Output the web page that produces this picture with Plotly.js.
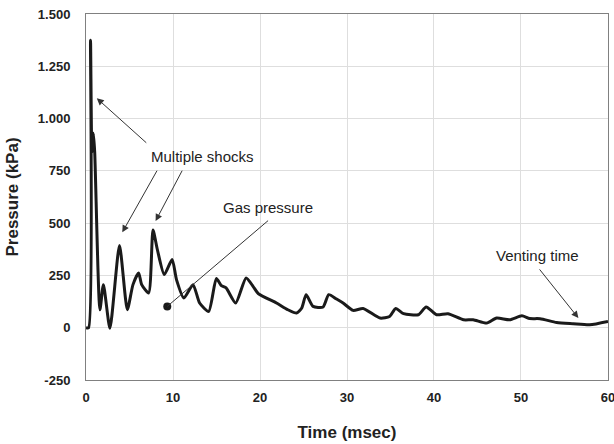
<!DOCTYPE html>
<html>
<head>
<meta charset="utf-8">
<script src="https://cdn.plot.ly/plotly-3.0.1.min.js"></script>
<style>html,body{margin:0;padding:0;background:#fff;}#chart{width:614px;height:444px;}</style>
</head>
<body>
<div id="chart"></div>
<script>
// Time (msec) and pressure (kPa)
const timeMs = [0, 0.3, 0.52, 0.68, 0.85, 1.0, 1.6, 2.0, 2.75, 3.85, 4.75, 5.4, 6.05, 6.4, 7.2, 7.7, 8.2, 9.0, 9.9, 10.4, 11.25, 12.3, 13.06, 14.1, 14.98, 15.56, 16.1, 17.2, 18.4, 19.2, 19.8, 21.9, 23.2, 24.2, 24.8, 25.3, 26.1, 27.25, 27.9, 28.8, 29.55, 30.7, 31.85, 33.8, 34.9, 35.6, 36.5, 38.2, 39.1, 40.3, 41.6, 43.4, 44.5, 46.05, 47.2, 48.7, 50.1, 51.0, 52.2, 54.1, 56.0, 57.9, 60.0];
const pressureKPa = [0, 0, 1375, 840, 930, 840, 86, 206, -2, 393, 86, 206, 262, 206, 166, 467, 374, 254, 326, 230, 142, 206, 118, 78, 235, 201, 190, 118, 238, 198, 163, 118, 86, 70, 94, 158, 102, 99, 158, 137, 118, 83, 92, 46, 54, 92, 67, 62, 99, 62, 67, 38, 38, 22, 46, 38, 57, 44, 43, 25, 19, 14, 30];

// Gas pressure marker point
const gasPointTime = [9.34];
const gasPointPressure = [102];

// Axis ticks
const xTickVals = [0, 10, 20, 30, 40, 50, 60];
const xTickText = ['0', '10', '20', '30', '40', '50', '60'];
const yTickVals = [-250, 0, 250, 500, 750, 1000, 1250, 1500];
const yTickText = ['-250', '0', '250', '500', '750', '1.000', '1.250', '1.500'];

const traces = [
  {x: timeMs, y: pressureKPa, type: 'scatter', mode: 'lines',
   line: {color: '#1a1a1a', width: 3, shape: 'spline', smoothing: 0.6}, hoverinfo: 'skip', cliponaxis: false},
  {x: gasPointTime, y: gasPointPressure, type: 'scatter', mode: 'markers',
   marker: {color: '#1a1a1a', size: 8}, hoverinfo: 'skip'}
];

const arrowStyle = {showarrow: true, axref: 'x', ayref: 'y', arrowhead: 2, arrowsize: 1.4, arrowwidth: 1, arrowcolor: '#333', text: ''};
const textFont = {family: 'Liberation Sans, Arial, sans-serif', size: 15, color: '#222'};

const annotations = [
  {x: 13.4, y: 820, xref: 'x', yref: 'y', text: 'Multiple shocks', showarrow: false, font: textFont},
  Object.assign({x: 1.24, y: 1097, ax: 7.1, ay: 878, xref: 'x', yref: 'y'}, arrowStyle),
  Object.assign({x: 4.17, y: 456, ax: 8.26, ay: 758, xref: 'x', yref: 'y'}, arrowStyle),
  Object.assign({x: 8.0, y: 510, ax: 11.14, ay: 758, xref: 'x', yref: 'y'}, arrowStyle),
  {x: 20.9, y: 576, xref: 'x', yref: 'y', text: 'Gas pressure', showarrow: false, font: textFont},
  Object.assign({x: 9.34, y: 102, ax: 21.1, ay: 518, xref: 'x', yref: 'y'}, arrowStyle, {arrowhead: 0}),
  {x: 51.95, y: 345, xref: 'x', yref: 'y', text: 'Venting time', showarrow: false, font: textFont},
  Object.assign({x: 56.6, y: 46, ax: 52.0, ay: 286, xref: 'x', yref: 'y'}, arrowStyle)
];

const layout = {
  width: 614, height: 444,
  margin: {l: 86, r: 6, t: 14, b: 64},
  paper_bgcolor: '#fff', plot_bgcolor: '#fff',
  showlegend: false,
  font: {family: 'Liberation Sans, Arial, sans-serif', color: '#222'},
  xaxis: {
    range: [0, 60.001], tickvals: xTickVals, ticktext: xTickText, ticks: '', showgrid: true, gridcolor: '#dedede', gridwidth: 1,
    zeroline: false, showline: true, linecolor: '#808080', linewidth: 1, mirror: true,
    tickfont: {size: 13, family: 'Liberation Sans, Arial, sans-serif', weight: 'bold', color: '#222'},
    ticklabelstandoff: 5, ticklabeloverflow: 'allow', automargin: false,
    title: {text: '<b>Time (msec)</b>', font: {size: 17, family: 'Liberation Sans, Arial, sans-serif', color: '#222'}, standoff: 22}
  },
  yaxis: {
    range: [-250, 1500], tickvals: yTickVals, ticktext: yTickText, ticks: '', showgrid: true, gridcolor: '#dedede', gridwidth: 1,
    zeroline: false, showline: true, linecolor: '#808080', linewidth: 1, mirror: true,
    tickfont: {size: 13, family: 'Liberation Sans, Arial, sans-serif', weight: 'bold', color: '#222'},
    ticklabelstandoff: 12, automargin: false,
    title: {text: '<b>Pressure (kPa)</b>', font: {size: 17, family: 'Liberation Sans, Arial, sans-serif', color: '#222'}, standoff: 14}
  },
  annotations: annotations
};

Plotly.newPlot('chart', traces, layout, {displayModeBar: false, staticPlot: true});
</script>
</body>
</html>
